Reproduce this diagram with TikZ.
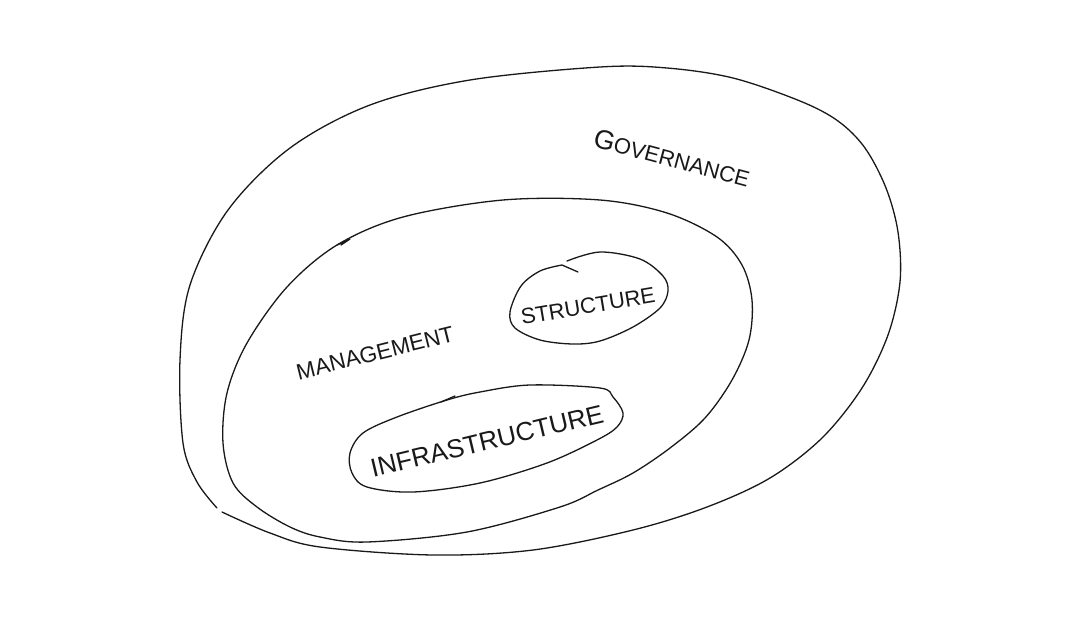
\documentclass[tikz,border=0pt]{standalone}
\usepackage{fontspec}
\setmainfont{Liberation Sans}
\begin{document}
\begin{tikzpicture}[x=1pt,y=-1pt,
  pen/.style={line width=1.3pt, line cap=round, line join=round, black!90},
  lbl/.style={inner sep=0pt, text=black!90}]
\useasboundingbox[fill=white] (0,0) rectangle (1080,627);
% outer: governance
\draw[pen] plot[smooth, tension=0.55] coordinates {
 (222,512) (270,533) (320,547) (433,555) (533,550) (633,530) (707,507)
 (770,478) (822,438) (862,388) (888,335) (900,282) (898,232) (886,188)
 (865,148) (838,121) (800,101) (733,78) (667,68) (600,67) (470,80)
 (370,105) (290,148) (228,210) (190,285) (180,360) (183,443) (197,482)
 (217,508)};
% management
\draw[pen] plot[smooth cycle, tension=0.55] coordinates {
 (403,217) (503,200) (600,200) (667,213) (717,237) (742,265) (752,300)
 (749,340) (732,380) (705,418) (670,448) (633,473) (598,490) (560,507)
 (467,532) (367,542) (320,537) (290,527) (257,507) (233,483) (223,443)
 (227,393) (247,343) (287,287) (337,245)};
\draw[pen] (337,245) -- (350,239) -- (341,245);
% structure
\draw[pen] plot[smooth, tension=0.55] coordinates {
 (567,261) (600,252) (640,259) (663,276) (668,291) (660,308) (633,327)
 (600,341) (573,344) (540,340) (515,328) (510,312) (521,286) (540,271)
 (562,265)} -- (578,272);
% infrastructure
\draw[pen] plot[smooth cycle, tension=0.55] coordinates {
 (530,385) (600,388) (613,397) (623,413) (617,427) (597,440) (547,463)
 (480,483) (413,492) (367,487) (352,473) (350,453) (363,433) (397,417)
 (447,400) (480,392)};
\draw[pen] (441,402) -- (455,396);
% labels
\node[lbl, rotate=-15, font=\fontsize{22}{22}\selectfont] (gov) at (672,158)
  {{\fontsize{27}{27}\selectfont G}OVERNANCE};
\node[lbl, rotate=14, font=\fontsize{22.5}{22.5}\selectfont] (man) at (375,353) {MANAGEMENT};
\node[lbl, rotate=9.5, font=\fontsize{22}{22}\selectfont] (str) at (588,306) {STRUCTURE};
\node[lbl, rotate=13.4, font=\fontsize{26}{26}\selectfont] (inf) at (487,441) {INFRASTRUCTURE};
\end{tikzpicture}
\end{document}
